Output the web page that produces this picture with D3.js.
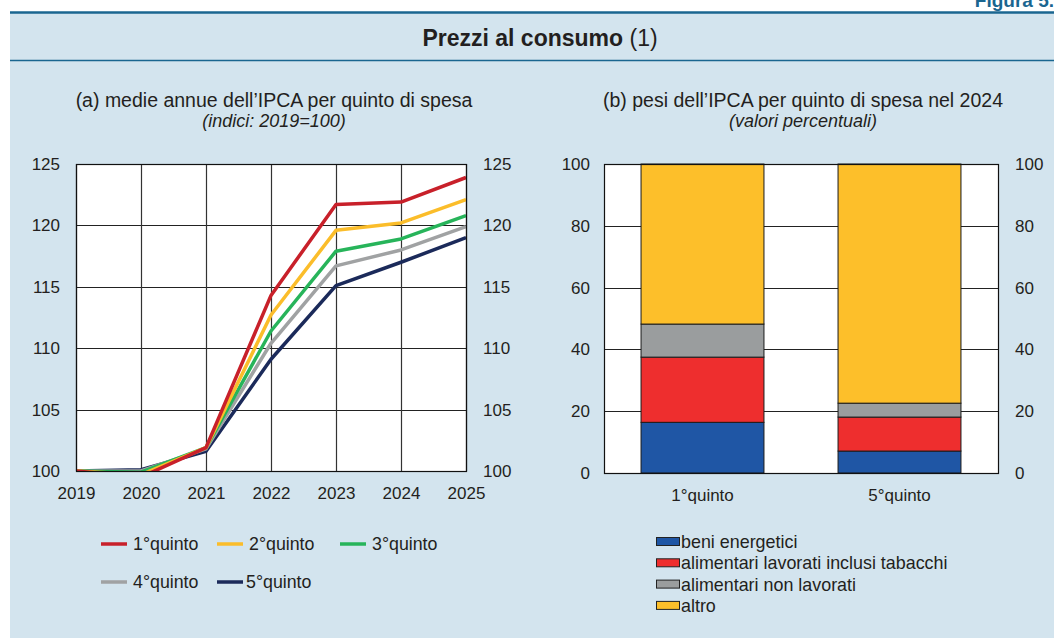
<!DOCTYPE html>
<html>
<head>
<meta charset="utf-8">
<script src="https://cdn.jsdelivr.net/npm/d3@7"></script>
<style>
  html, body { margin: 0; padding: 0; background: #fff; }
  svg { display: block; font-family: "Liberation Sans", Arial, Helvetica, sans-serif; }
</style>
</head>
<body>
<svg id="chart" width="1054" height="638"></svg>
<script>
// --- data ---
const years = [2019, 2020, 2021, 2022, 2023, 2024, 2025];
const quintileNames = ["1°quinto", "2°quinto", "3°quinto", "4°quinto", "5°quinto"];
const q1 = [100, 99.5, 101.9, 114.3, 121.7, 121.9, 123.9];
const q2 = [100, 99.7, 101.9, 112.7, 119.6, 120.2, 122.1];
const q3 = [100, 99.9, 101.9, 111.4, 117.9, 118.9, 120.8];
const q4 = [100, 100.0, 101.8, 110.4, 116.7, 118.0, 119.9];
const q5 = [100, 100.1, 101.6, 109.1, 115.1, 117.0, 119.0];
const lineTicks = [100, 105, 110, 115, 120, 125];

const barCategories = ["1°quinto", "5°quinto"];
const componentNames = ["beni energetici", "alimentari lavorati inclusi tabacchi", "alimentari non lavorati", "altro"];
const energetici   = [16.4, 7.1];
const alimLavorati = [21.1, 11.0];
const alimNonLav   = [10.7, 4.5];
const altro        = [51.8, 77.4];
const barTicks = [0, 20, 40, 60, 80, 100];

const lineColors = ["#c8202a", "#fbbd2a", "#27b45a", "#a0a2a3", "#1b2a5a"];
const barColors  = ["#1f56a5", "#ee2e2e", "#9a9d9e", "#fdbf2a"];

const svg = d3.select("#chart");
const txt = "#231f20";

// --- panel background + header ---
svg.append("rect").attr("x", 10).attr("y", 13).attr("width", 1044).attr("height", 625).attr("fill", "#d3e4ee");
svg.append("line").attr("x1", 10).attr("x2", 1054).attr("y1", 12.5).attr("y2", 12.5)
  .attr("stroke", "#1a6690").attr("stroke-width", 2.5);
svg.append("line").attr("x1", 10).attr("x2", 1054).attr("y1", 60.5).attr("y2", 60.5)
  .attr("stroke", "#1a6690").attr("stroke-width", 1.5);
svg.append("text").attr("x", 1054).attr("y", 7).attr("text-anchor", "end")
  .attr("fill", "#1a6690").style("font-size", "19px").style("font-weight", "bold").text("Figura 5.");

const title = svg.append("text").attr("x", 540).attr("y", 46).attr("text-anchor", "middle")
  .attr("fill", txt).style("font-size", "23px");
title.append("tspan").style("font-weight", "bold").text("Prezzi al consumo");
title.append("tspan").text(" (1)");

// --- (a) line chart ---
const x = d3.scaleLinear().domain([2019, 2025]).range([76, 466]);
const y = d3.scaleLinear().domain([100, 125]).range([471, 164]);

svg.append("text").attr("x", 274).attr("y", 107).attr("text-anchor", "middle").attr("fill", txt)
  .style("font-size", "19.5px").text("(a) medie annue dell’IPCA per quinto di spesa");
svg.append("text").attr("x", 274).attr("y", 127).attr("text-anchor", "middle").attr("fill", txt)
  .style("font-size", "18px").style("font-style", "italic").text("(indici: 2019=100)");

const ga = svg.append("g");
ga.append("rect").attr("x", x(2019)).attr("y", y(125)).attr("width", x(2025) - x(2019))
  .attr("height", y(100) - y(125)).attr("fill", "#fff");

ga.append("g").selectAll("line.h").data(lineTicks).join("line")
  .attr("x1", x(2019)).attr("x2", x(2025)).attr("y1", d => Math.round(y(d)) + 0.5).attr("y2", d => Math.round(y(d)) + 0.5)
  .attr("stroke", "#222").attr("stroke-width", 1.2);
ga.append("g").selectAll("line.v").data(years).join("line")
  .attr("x1", d => Math.round(x(d)) + 0.5).attr("x2", d => Math.round(x(d)) + 0.5).attr("y1", y(125)).attr("y2", y(100))
  .attr("stroke", "#333").attr("stroke-width", 1.2);

svg.append("defs").append("clipPath").attr("id", "clipA").append("rect")
  .attr("x", x(2019)).attr("y", y(125) - 3).attr("width", x(2025) - x(2019) + 3).attr("height", y(100) - y(125) + 3);

const series = [q1, q2, q3, q4, q5];
const line = d3.line().x((d, i) => x(years[i])).y(d => y(d));
ga.append("g").attr("clip-path", "url(#clipA)").selectAll("path").data(series.slice().reverse()).join("path")
  .attr("d", line).attr("fill", "none")
  .attr("stroke", (d, i) => lineColors[4 - i]).attr("stroke-width", 3.5).attr("stroke-linejoin", "round");

ga.append("g").attr("transform", `translate(0,${y(100)})`)
  .call(d3.axisBottom(x).tickValues(years).tickFormat(d3.format("d")).tickSize(0).tickPadding(16))
  .call(g => g.select(".domain").remove());
ga.append("g").attr("transform", `translate(${x(2019)},0)`)
  .call(d3.axisLeft(y).tickValues(lineTicks).tickSize(0).tickPadding(16))
  .call(g => g.select(".domain").remove());
ga.append("g").attr("transform", `translate(${x(2025)},0)`)
  .call(d3.axisRight(y).tickValues(lineTicks).tickSize(0).tickPadding(17))
  .call(g => g.select(".domain").remove());
ga.append("rect").attr("x", x(2019) + 0.5).attr("y", y(125) + 0.5).attr("width", x(2025) - x(2019))
  .attr("height", y(100) - y(125)).attr("fill", "none").attr("stroke", "#111").attr("stroke-width", 1.2);

// legend (a)
const legA = [[101, 544], [217, 544], [340, 544], [101, 582], [217, 582]];
quintileNames.forEach((n, i) => {
  const [lx, ly] = legA[i];
  svg.append("line").attr("x1", lx).attr("x2", lx + 26).attr("y1", ly).attr("y2", ly)
    .attr("stroke", lineColors[i]).attr("stroke-width", 3.5);
  svg.append("text").attr("x", lx + (i === 4 ? 29 : 32)).attr("y", ly + 6).attr("fill", txt)
    .style("font-size", "17.8px").text(n);
});

// --- (b) stacked bars ---
svg.append("text").attr("x", 803).attr("y", 107).attr("text-anchor", "middle").attr("fill", txt)
  .style("font-size", "19.5px").text("(b) pesi dell’IPCA per quinto di spesa nel 2024");
svg.append("text").attr("x", 803).attr("y", 127).attr("text-anchor", "middle").attr("fill", txt)
  .style("font-size", "18px").style("font-style", "italic").text("(valori percentuali)");

const xb = d3.scaleBand().domain(barCategories).range([604, 998]).paddingInner(0.376).paddingOuter(0.188);
const yb = d3.scaleLinear().domain([0, 100]).range([473, 164]);

const gb = svg.append("g");
gb.append("rect").attr("x", 604).attr("y", yb(100)).attr("width", 394).attr("height", yb(0) - yb(100)).attr("fill", "#fff");
gb.append("g").selectAll("line").data(barTicks).join("line")
  .attr("x1", 604).attr("x2", 998).attr("y1", d => Math.round(yb(d)) + 0.5).attr("y2", d => Math.round(yb(d)) + 0.5)
  .attr("stroke", "#222").attr("stroke-width", 1.2);

const rows = barCategories.map((c, i) => ({
  cat: c, energetici: energetici[i], alimLavorati: alimLavorati[i], alimNonLav: alimNonLav[i], altro: altro[i]
}));
const stack = d3.stack().keys(["energetici", "alimLavorati", "alimNonLav", "altro"])(rows);
gb.append("g").selectAll("g").data(stack).join("g")
  .attr("fill", (d, i) => barColors[i])
  .selectAll("rect").data(d => d).join("rect")
  .attr("x", d => xb(d.data.cat)).attr("width", xb.bandwidth())
  .attr("y", d => yb(d[1])).attr("height", d => yb(d[0]) - yb(d[1]))
  .attr("stroke", "#1a1a1a").attr("stroke-width", 1);

gb.append("g").attr("transform", `translate(0,${yb(0)})`)
  .call(d3.axisBottom(xb).tickSize(0).tickPadding(16))
  .call(g => g.select(".domain").remove());
gb.append("g").attr("transform", "translate(604,0)")
  .call(d3.axisLeft(yb).tickValues(barTicks).tickSize(0).tickPadding(14))
  .call(g => g.select(".domain").remove());
gb.append("g").attr("transform", "translate(998,0)")
  .call(d3.axisRight(yb).tickValues(barTicks).tickSize(0).tickPadding(17))
  .call(g => g.select(".domain").remove());
gb.append("rect").attr("x", 604.5).attr("y", yb(100) + 0.5).attr("width", 394).attr("height", yb(0) - yb(100))
  .attr("fill", "none").attr("stroke", "#111").attr("stroke-width", 1.2);

// legend (b)
componentNames.forEach((n, i) => {
  const ly = 542 + i * 21.3;
  svg.append("rect").attr("x", 656.5).attr("y", ly - 4.5).attr("width", 23).attr("height", 8)
    .attr("fill", barColors[i]).attr("stroke", "#222").attr("stroke-width", 1);
  svg.append("text").attr("x", 681).attr("y", ly + 6).attr("fill", txt).style("font-size", "17.9px").text(n);
});

svg.selectAll(".tick text").attr("fill", txt).style("font-size", "17px")
  .style("font-family", "'Liberation Sans', Arial, Helvetica, sans-serif");
</script>
</body>
</html>
